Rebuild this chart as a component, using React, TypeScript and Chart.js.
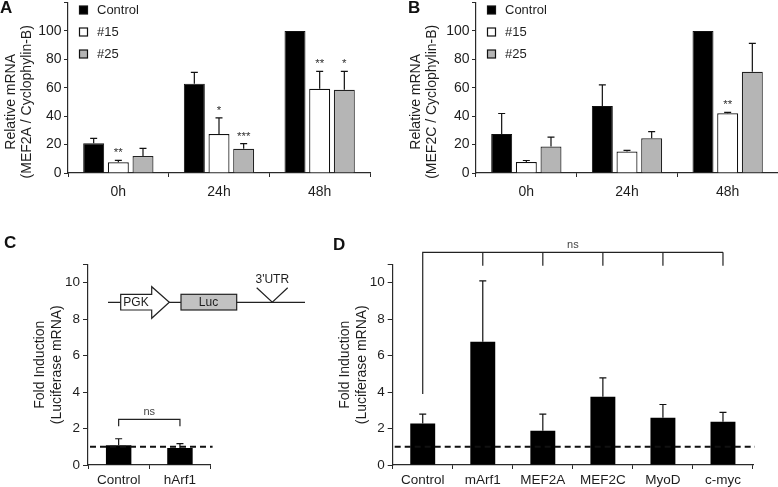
import React, { useEffect, useRef } from 'react';
import { Chart, registerables } from 'chart.js';

Chart.register(...registerables);

const FONT = '"Liberation Sans", Arial, Helvetica, sans-serif';
const TEXT = '#1e1e1e';
const AXIS = '#2a2a2a';

// ---------- Panel A: MEF2A ----------
const timeLabels = ['0h', '24h', '48h'];
const seriesNames = ['Control', '#15', '#25'];
const seriesColors = ['#000000', '#ffffff', '#b5b5b5'];
const relTickMax = 120;
const relTickStep = 20;
const relTickLastShown = 100;

const mef2aControl = [20.9, 62.8, 100];
const mef2aControlErr = [3.5, 8.1, 0];
const mef2a15 = [7.5, 27.4, 59.3];
const mef2a15Err = [1.4, 11.4, 12.3];
const mef2a25 = [12.0, 17.0, 58.6];
const mef2a25Err = [5.4, 3.7, 13.0];
const mef2a15Stars = ['**', '*', '**'];
const mef2a25Stars = ['', '***', '*'];

// ---------- Panel B: MEF2C ----------
const mef2cControl = [27.4, 47.2, 100];
const mef2cControlErr = [14.5, 14.9, 0];
const mef2c15 = [7.7, 15.1, 42.0];
const mef2c15Err = [1.1, 0.9, 0.7];
const mef2c25 = [18.6, 24.4, 71.3];
const mef2c25Err = [6.7, 4.7, 20.0];
const mef2c15Stars = ['', '', '**'];

// ---------- Panel C: reporter ----------
const reporterLabels = ['Control', 'hArf1'];
const reporterValues = [1.08, 0.93];
const reporterErr = [0.36, 0.24];
const foldMax = 11;
const foldStep = 2;
const foldLastShown = 10;
const baselineValue = 1;
const reporterBracket = { top: 2.5, legEnd: 2.12, label: 'ns' };

// ---------- Panel D: factors ----------
const factorLabels = ['Control', 'mArf1', 'MEF2A', 'MEF2C', 'MyoD', 'c-myc'];
const factorValues = [2.28, 6.76, 1.88, 3.74, 2.59, 2.37];
const factorErr = [0.51, 3.34, 0.91, 1.04, 0.73, 0.52];
const factorBracket = { top: 11.67, legEnd: 10.93, firstLegEnd: 3.9, label: 'ns' };

// ---------- plugins ----------
const errorBarPlugin = {
  id: 'errorBars',
  afterDatasetsDraw(chart: any) {
    const ctx = chart.ctx;
    const y = chart.scales.y;
    chart.data.datasets.forEach((ds: any, i: number) => {
      const errs = ds.errors;
      if (!errs) return;
      const meta = chart.getDatasetMeta(i);
      meta.data.forEach((el: any, j: number) => {
        const e = errs[j];
        if (!e) return;
        const top = y.getPixelForValue(ds.data[j] + e);
        ctx.save();
        ctx.strokeStyle = '#111';
        ctx.lineWidth = 1.2;
        ctx.beginPath();
        ctx.moveTo(el.x, el.y);
        ctx.lineTo(el.x, top);
        ctx.moveTo(el.x - 3.5, top);
        ctx.lineTo(el.x + 3.5, top);
        ctx.stroke();
        ctx.restore();
      });
    });
  },
};

const starPlugin = {
  id: 'stars',
  afterDatasetsDraw(chart: any) {
    const ctx = chart.ctx;
    const y = chart.scales.y;
    chart.data.datasets.forEach((ds: any, i: number) => {
      const stars = ds.stars;
      if (!stars) return;
      const meta = chart.getDatasetMeta(i);
      meta.data.forEach((el: any, j: number) => {
        const s = stars[j];
        if (!s) return;
        const top = y.getPixelForValue(ds.data[j] + (ds.errors ? ds.errors[j] : 0));
        ctx.save();
        ctx.fillStyle = '#333';
        ctx.font = `11.5px ${FONT}`;
        ctx.textAlign = 'center';
        ctx.textBaseline = 'alphabetic';
        ctx.fillText(s, el.x, top - 4);
        ctx.restore();
      });
    });
  },
};

const boxLegendPlugin = {
  id: 'boxLegend',
  afterDraw(chart: any) {
    const { ctx, chartArea } = chart;
    const x0 = chartArea.left + 11.5;
    chart.data.datasets.forEach((ds: any, i: number) => {
      const cy = chartArea.top + 7.4 + i * 22;
      ctx.save();
      ctx.fillStyle = ds.backgroundColor;
      ctx.fillRect(x0, cy - 4, 8, 8);
      ctx.strokeStyle = '#111';
      ctx.lineWidth = 1.2;
      ctx.strokeRect(x0, cy - 4, 8, 8);
      ctx.fillStyle = TEXT;
      ctx.font = `13px ${FONT}`;
      ctx.textAlign = 'left';
      ctx.textBaseline = 'middle';
      ctx.fillText(ds.label, x0 + 17.5, cy);
      ctx.restore();
    });
  },
};

// Two-line rotated y-axis title, centred slightly below the axis middle as in the figure
const relTitlePlugin = {
  id: 'relTitle',
  afterDraw(chart: any, _args: any, opts: any) {
    const { ctx } = chart;
    const ys = chart.scales.y;
    const cy = (ys.top + ys.bottom) / 2 + 14;
    const lines: string[] = opts.lines || [];
    ctx.save();
    ctx.fillStyle = TEXT;
    ctx.font = `14px ${FONT}`;
    ctx.textAlign = 'center';
    ctx.textBaseline = 'middle';
    lines.forEach((t, k) => {
      ctx.save();
      ctx.translate(ys.left + 11 + k * 16, cy);
      ctx.rotate(-Math.PI / 2);
      ctx.fillText(t, 0, 0);
      ctx.restore();
    });
    ctx.restore();
  },
};

const baselinePlugin = {
  id: 'baseline',
  afterDatasetsDraw(chart: any) {
    const { ctx, chartArea } = chart;
    const py = chart.scales.y.getPixelForValue(baselineValue);
    ctx.save();
    ctx.strokeStyle = '#111';
    ctx.lineWidth = 1.8;
    ctx.setLineDash([6, 4]);
    ctx.beginPath();
    ctx.moveTo(chartArea.left + 2, py);
    ctx.lineTo(chartArea.right + 2, py);
    ctx.stroke();
    ctx.restore();
  },
};

function drawNs(ctx: any, x: number, y: number, label: string) {
  ctx.save();
  ctx.fillStyle = '#444';
  ctx.font = `11px ${FONT}`;
  ctx.textAlign = 'center';
  ctx.textBaseline = 'alphabetic';
  ctx.fillText(label, x, y - 4);
  ctx.restore();
}

const reporterBracketPlugin = {
  id: 'reporterBracket',
  afterDraw(chart: any) {
    const ctx = chart.ctx;
    const y = chart.scales.y;
    const els = chart.getDatasetMeta(0).data;
    const yt = y.getPixelForValue(reporterBracket.top);
    const yl = y.getPixelForValue(reporterBracket.legEnd);
    const x1 = els[0].x;
    const x2 = els[els.length - 1].x;
    ctx.save();
    ctx.strokeStyle = '#222';
    ctx.lineWidth = 1.2;
    ctx.beginPath();
    ctx.moveTo(x1, yl);
    ctx.lineTo(x1, yt);
    ctx.lineTo(x2, yt);
    ctx.lineTo(x2, yl);
    ctx.stroke();
    ctx.restore();
    drawNs(ctx, (x1 + x2) / 2, yt, reporterBracket.label);
  },
};

const factorBracketPlugin = {
  id: 'factorBracket',
  afterDraw(chart: any) {
    const ctx = chart.ctx;
    const y = chart.scales.y;
    const els = chart.getDatasetMeta(0).data;
    const yt = y.getPixelForValue(factorBracket.top);
    const yl = y.getPixelForValue(factorBracket.legEnd);
    const yf = y.getPixelForValue(factorBracket.firstLegEnd);
    const x1 = els[0].x;
    const x2 = els[els.length - 1].x;
    ctx.save();
    ctx.strokeStyle = '#222';
    ctx.lineWidth = 1.2;
    ctx.beginPath();
    ctx.moveTo(x1, yf);
    ctx.lineTo(x1, yt);
    ctx.lineTo(x2, yt);
    for (let i = 1; i < els.length; i++) {
      ctx.moveTo(els[i].x, yt);
      ctx.lineTo(els[i].x, yl);
    }
    ctx.stroke();
    ctx.restore();
    drawNs(ctx, (x1 + x2) / 2, yt, factorBracket.label);
  },
};

const constructPlugin = {
  id: 'construct',
  afterDraw(chart: any) {
    const ctx = chart.ctx;
    const ly = 72.3;
    ctx.save();
    ctx.strokeStyle = '#222';
    ctx.lineWidth = 1.2;
    ctx.beginPath();
    ctx.moveTo(108, ly);
    ctx.lineTo(305, ly);
    ctx.stroke();
    ctx.beginPath();
    ctx.moveTo(120.7, 64.3);
    ctx.lineTo(151.7, 64.3);
    ctx.lineTo(151.7, 56.7);
    ctx.lineTo(169.3, ly);
    ctx.lineTo(151.7, 88.3);
    ctx.lineTo(151.7, 80);
    ctx.lineTo(120.7, 80);
    ctx.closePath();
    ctx.fillStyle = '#ffffff';
    ctx.fill();
    ctx.stroke();
    ctx.fillStyle = '#c2c2c2';
    ctx.fillRect(181, 64.3, 55.7, 15.7);
    ctx.strokeRect(181, 64.3, 55.7, 15.7);
    ctx.beginPath();
    ctx.moveTo(256.7, 57.7);
    ctx.lineTo(272.3, ly);
    ctx.lineTo(287.7, 57.7);
    ctx.stroke();
    ctx.fillStyle = TEXT;
    ctx.font = `12px ${FONT}`;
    ctx.textAlign = 'center';
    ctx.textBaseline = 'middle';
    ctx.fillText('PGK', 136, ly + 0.5);
    ctx.fillText('Luc', 208.5, ly + 0.5);
    ctx.fillText("3'UTR", 272.3, 50);
    ctx.restore();
  },
};

// ---------- config builders ----------
function relConfig(
  title2: string,
  c: number[], ce: number[],
  a: number[], ae: number[],
  b: number[], be: number[],
  aStars: string[], bStars: string[],
  padLeft: number, yWidth: number, padRight: number,
) {
  return {
    type: 'bar',
    data: {
      labels: timeLabels,
      datasets: [
        { label: seriesNames[0], data: c, errors: ce, backgroundColor: seriesColors[0], borderColor: '#111', borderWidth: 1 },
        { label: seriesNames[1], data: a, errors: ae, stars: aStars, backgroundColor: seriesColors[1], borderColor: '#111', borderWidth: 1.2 },
        { label: seriesNames[2], data: b, errors: be, stars: bStars, backgroundColor: seriesColors[2], borderColor: '#222', borderWidth: 1.2 },
      ],
    },
    options: {
      responsive: false,
      animation: false,
      devicePixelRatio: 1,
      layout: { padding: { left: padLeft, right: padRight, top: 2.6, bottom: 0 } },
      datasets: { bar: { barPercentage: 0.85, categoryPercentage: 0.735 } },
      plugins: {
        legend: { display: false },
        tooltip: { enabled: false },
        relTitle: { lines: ['Relative mRNA', title2] },
      },
      scales: {
        x: {
          type: 'category',
          grid: { display: true, drawOnChartArea: false, drawTicks: true, tickLength: 4, color: AXIS, offset: true },
          border: { display: true, color: AXIS, width: 1.2 },
          ticks: { font: { family: FONT, size: 14 }, color: TEXT, padding: 6.5, maxRotation: 0, autoSkip: false },
          afterFit: (s: any) => { s.height = 27; s.paddingLeft = 0; s.paddingRight = 0; },
        },
        y: {
          min: 0,
          max: relTickMax,
          grid: { display: true, drawOnChartArea: false, drawTicks: true, tickLength: 4, color: AXIS },
          border: { display: true, color: AXIS, width: 1.2 },
          ticks: {
            stepSize: relTickStep,
            font: { family: FONT, size: 14 },
            color: TEXT,
            padding: 2.5,
            callback: (v: any) => (v > relTickLastShown ? '' : String(v)),
          },
          afterFit: (s: any) => { s.width = yWidth; s.paddingTop = 0; s.paddingBottom = 0; },
        },
      },
    },
    plugins: [errorBarPlugin, starPlugin, boxLegendPlugin, relTitlePlugin],
  };
}

function foldConfig(
  labels: string[], values: number[], errs: number[],
  padLeft: number, yWidth: number, padRight: number, extra: any[],
) {
  return {
    type: 'bar',
    data: {
      labels,
      datasets: [
        { label: 'Fold Induction', data: values, errors: errs, backgroundColor: '#000000', borderColor: '#000000', borderWidth: 0 },
      ],
    },
    options: {
      responsive: false,
      animation: false,
      devicePixelRatio: 1,
      layout: { padding: { left: padLeft, right: padRight, top: 34.5, bottom: 0 } },
      datasets: { bar: { barPercentage: 0.415, categoryPercentage: 1 } },
      plugins: { legend: { display: false }, tooltip: { enabled: false } },
      scales: {
        x: {
          type: 'category',
          grid: { display: true, drawOnChartArea: false, drawTicks: true, tickLength: 4, color: AXIS, offset: true },
          border: { display: true, color: AXIS, width: 1.2 },
          ticks: { font: { family: FONT, size: 13.5 }, color: TEXT, padding: 3, maxRotation: 0, autoSkip: false },
          afterFit: (s: any) => { s.height = 22; s.paddingLeft = 0; s.paddingRight = 0; },
        },
        y: {
          min: 0,
          max: foldMax,
          grid: { display: true, drawOnChartArea: false, drawTicks: true, tickLength: 5, color: AXIS },
          border: { display: true, color: AXIS, width: 1.2 },
          ticks: {
            stepSize: foldStep,
            font: { family: FONT, size: 13.5 },
            color: TEXT,
            padding: 3,
            callback: (v: any) => (v > foldLastShown ? '' : String(v)),
          },
          title: {
            display: true,
            text: ['Fold Induction', '(Luciferase mRNA)'],
            font: { family: FONT, size: 14, lineHeight: '16.5px' },
            color: TEXT,
            padding: { top: 4, bottom: 0 },
          },
          afterFit: (s: any) => { s.width = yWidth; s.paddingTop = 0; s.paddingBottom = 0; },
        },
      },
    },
    plugins: [baselinePlugin, errorBarPlugin, ...extra],
  };
}

type PanelProps = { left: number; top: number; width: number; height: number; make: () => any };

function Panel({ left, top, width, height, make }: PanelProps) {
  const ref = useRef<HTMLCanvasElement>(null);
  useEffect(() => {
    const chart = new Chart(ref.current as HTMLCanvasElement, make());
    return () => chart.destroy();
  }, []);
  return (
    <canvas
      ref={ref}
      width={width}
      height={height}
      style={{ position: 'absolute', left, top, width, height, display: 'block' }}
    />
  );
}

const labelStyle = (left: number, top: number): React.CSSProperties => ({
  position: 'absolute',
  left,
  top,
  font: `bold 17px ${FONT}`,
  lineHeight: '17px',
  color: '#111',
});

export default function App() {
  useEffect(() => {
    document.body.style.margin = '0';
    document.body.style.background = '#ffffff';
  }, []);
  return (
    <div style={{ position: 'absolute', left: 0, top: 0, width: 778, height: 487, background: '#fff', overflow: 'hidden' }}>
      <Panel
        left={0} top={0} width={385} height={200}
        make={() => relConfig('(MEF2A / Cyclophylin-B)', mef2aControl, mef2aControlErr, mef2a15, mef2a15Err, mef2a25, mef2a25Err, mef2a15Stars, mef2a25Stars, 0, 68, 15)}
      />
      <Panel
        left={390} top={0} width={388} height={200}
        make={() => relConfig('(MEF2C / Cyclophylin-B)', mef2cControl, mef2cControlErr, mef2c15, mef2c15Err, mef2c25, mef2c25Err, mef2c15Stars, [], 15, 71, 0)}
      />
      <Panel
        left={0} top={230} width={310} height={257}
        make={() => foldConfig(reporterLabels, reporterValues, reporterErr, 28, 60, 99.4, [reporterBracketPlugin, constructPlugin])}
      />
      <Panel
        left={310} top={230} width={468} height={257}
        make={() => foldConfig(factorLabels, factorValues, factorErr, 23, 59.7, 25, [factorBracketPlugin])}
      />
      <div style={labelStyle(0, -1)}>A</div>
      <div style={labelStyle(408, -1)}>B</div>
      <div style={labelStyle(4, 234)}>C</div>
      <div style={labelStyle(333, 236)}>D</div>
    </div>
  );
}
